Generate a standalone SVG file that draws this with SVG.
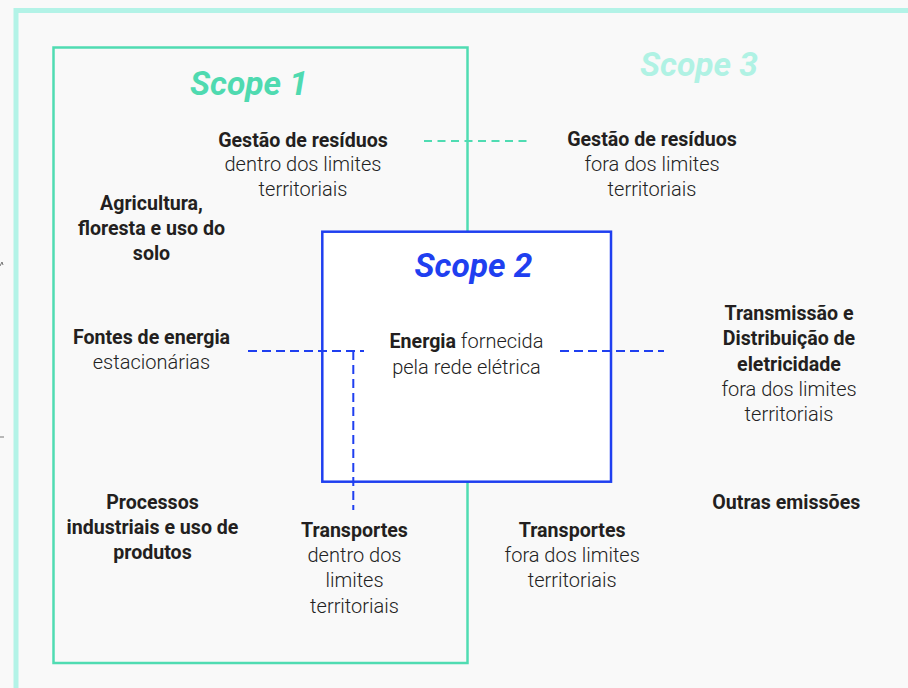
<svg xmlns="http://www.w3.org/2000/svg" width="908" height="688" viewBox="0 0 908 688">
  <style>
    .b { font-family: Roboto, "Liberation Sans", sans-serif; font-size: 19.6px; font-weight: 700; fill: #231f20; text-anchor: middle; }
    .r { font-family: Roboto, "Liberation Sans", sans-serif; font-size: 20px; font-weight: 300; fill: #222222; text-anchor: middle; }
    .t { font-family: Roboto, "Liberation Sans", sans-serif; font-size: 33.5px; font-weight: 700; font-style: italic; text-anchor: middle; }
    .dg { fill: none; stroke: #4fdcb2; stroke-width: 2; stroke-dasharray: 8 5.5; }
    .db { fill: none; stroke: #1f3ff0; stroke-width: 2; stroke-dasharray: 9 5; }
  </style>
  <rect x="0" y="0" width="908" height="688" fill="#f9f9f9"/>
  <path d="M0,266 L2,262 L3,265 M0,437 L4,437" fill="none" stroke="#555" stroke-width="0.8"/>

  <g id="scope3">
    <rect x="16" y="10.5" width="1000" height="800" fill="none" stroke="#b3f3e7" stroke-width="5"/>
    <text class="t" x="699" y="76" fill="#b0f2e4">Scope 3</text>
  </g>

  <g id="scope1">
    <rect x="53.5" y="47.5" width="414" height="615.5" fill="none" stroke="#50dcb2" stroke-width="2.5"/>
    <text class="t" x="249" y="95" fill="#4fdab0">Scope 1</text>
  </g>

  <g id="scope2">
    <rect x="322.3" y="231.7" width="288.7" height="250" fill="#ffffff" stroke="#1f3ff0" stroke-width="2.5"/>
    <text class="t" x="473.5" y="277" fill="#1f3ff0">Scope 2</text>
  </g>

  <g id="connectors">
    <line class="dg" x1="424" y1="141" x2="532" y2="141"/>
    <line class="db" x1="248" y1="351" x2="364" y2="351"/>
    <line class="db" x1="353.3" y1="351" x2="353.3" y2="510"/>
    <line class="db" x1="560" y1="351" x2="664" y2="351"/>
  </g>

  <g id="residuos-dentro">
    <text class="b" x="303" y="146.5">Gestão de resíduos</text>
    <text class="r" x="303" y="171">dentro dos limites</text>
    <text class="r" x="303" y="196">territoriais</text>
  </g>
  <g id="agricultura">
    <text class="b" x="151.5" y="209.5">Agricultura,</text>
    <text class="b" x="151.5" y="234.5">floresta e uso do</text>
    <text class="b" x="151.5" y="259.5">solo</text>
  </g>
  <g id="fontes-energia">
    <text class="b" x="151.5" y="344.3">Fontes de energia</text>
    <text class="r" x="151.5" y="369.3">estacionárias</text>
  </g>
  <g id="energia-rede">
    <text class="r" x="466.5" y="348.3"><tspan font-weight="700" font-size="19.6px" fill="#231f20">Energia</tspan> fornecida</text>
    <text class="r" x="466.5" y="374">pela rede elétrica</text>
  </g>
  <g id="residuos-fora">
    <text class="b" x="652" y="145.7">Gestão de resíduos</text>
    <text class="r" x="652" y="170.5">fora dos limites</text>
    <text class="r" x="652" y="195.5">territoriais</text>
  </g>
  <g id="transmissao">
    <text class="b" x="789" y="320">Transmissão e</text>
    <text class="b" x="789" y="345">Distribuição de</text>
    <text class="b" x="789" y="370.5">eletricidade</text>
    <text class="r" x="789" y="395.5">fora dos limites</text>
    <text class="r" x="789" y="420.5">territoriais</text>
  </g>
  <g id="outras">
    <text class="b" x="786.3" y="508.7">Outras emissões</text>
  </g>
  <g id="processos">
    <text class="b" x="152.5" y="509.3">Processos</text>
    <text class="b" x="152.5" y="534.3">industriais e uso de</text>
    <text class="b" x="152.5" y="559.3">produtos</text>
  </g>
  <g id="transportes-dentro">
    <text class="b" x="354.5" y="536.7">Transportes</text>
    <text class="r" x="354.5" y="561.7">dentro dos</text>
    <text class="r" x="354.5" y="587">limites</text>
    <text class="r" x="354.5" y="612.5">territoriais</text>
  </g>
  <g id="transportes-fora">
    <text class="b" x="572.2" y="536.7">Transportes</text>
    <text class="r" x="572.2" y="561.7">fora dos limites</text>
    <text class="r" x="572.2" y="586.7">territoriais</text>
  </g>
</svg>
